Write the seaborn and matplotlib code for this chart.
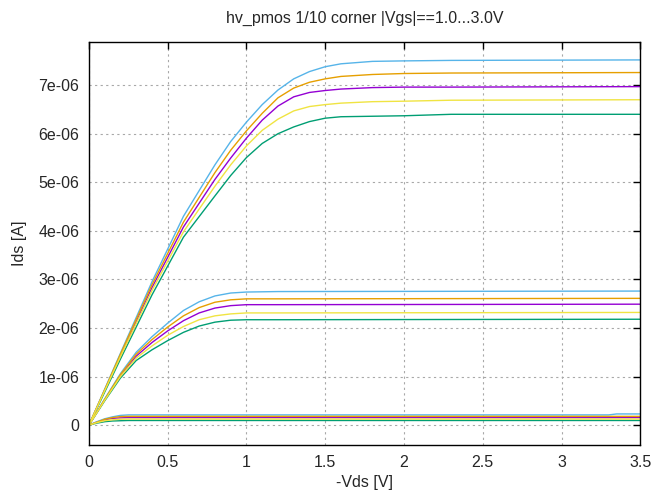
import numpy as np
import pandas as pd
import seaborn as sns
import matplotlib.pyplot as plt

# corners (line colours follow the gnuplot default palette)
corners = ['tt', 'ss', 'ff', 'fs', 'sf']
colors = ['#9400d3', '#009e73', '#56b4e9', '#e69f00', '#f0e442']

# |Vgs| = 1.0 V
vds_1 = [0, 0.05, 0.1, 0.15, 0.2, 0.25, 0.3, 3.3, 3.35, 3.5]
ids_1 = {
    'ff': [0, 0.07, 0.13, 0.17, 0.20, 0.21, 0.21, 0.21, 0.23, 0.23],
    'fs': [0, 0.06, 0.12, 0.155, 0.175, 0.18, 0.18, 0.18, 0.18, 0.18],
    'tt': [0, 0.06, 0.11, 0.14, 0.15, 0.155, 0.155, 0.155, 0.155, 0.155],
    'sf': [0, 0.05, 0.09, 0.11, 0.12, 0.125, 0.125, 0.125, 0.125, 0.125],
    'ss': [0, 0.04, 0.07, 0.085, 0.09, 0.095, 0.095, 0.095, 0.095, 0.095],
}

# |Vgs| = 2.0 V
vds_2 = [0, 0.1, 0.2, 0.3, 0.4, 0.5, 0.6, 0.7, 0.8, 0.9, 1.0, 1.2, 3.5]
ids_2 = {
    'ff': [0, 0.54, 1.06, 1.50, 1.82, 2.10, 2.36, 2.54, 2.66, 2.72, 2.74, 2.75, 2.76],
    'fs': [0, 0.53, 1.04, 1.46, 1.76, 2.02, 2.25, 2.42, 2.53, 2.58, 2.60, 2.60, 2.61],
    'tt': [0, 0.52, 1.02, 1.42, 1.70, 1.94, 2.15, 2.31, 2.41, 2.46, 2.48, 2.48, 2.49],
    'sf': [0, 0.51, 1.00, 1.38, 1.63, 1.85, 2.03, 2.17, 2.25, 2.29, 2.31, 2.31, 2.32],
    'ss': [0, 0.50, 0.97, 1.33, 1.55, 1.74, 1.91, 2.04, 2.12, 2.16, 2.17, 2.17, 2.18],
}

# |Vgs| = 3.0 V
vds_3 = [0, 0.2, 0.4, 0.6, 0.8, 0.9, 1.0, 1.1, 1.2, 1.3, 1.4, 1.5, 1.6, 1.8, 2.0, 2.3, 3.5]
ids_3 = {
    'ff': [0, 1.48, 2.95, 4.30, 5.36, 5.84, 6.24, 6.60, 6.90, 7.13, 7.28, 7.38, 7.44, 7.49, 7.50, 7.51, 7.52],
    'fs': [0, 1.46, 2.89, 4.18, 5.20, 5.66, 6.06, 6.42, 6.74, 6.94, 7.06, 7.13, 7.18, 7.22, 7.24, 7.25, 7.26],
    'tt': [0, 1.43, 2.83, 4.08, 5.06, 5.50, 5.91, 6.28, 6.57, 6.76, 6.85, 6.89, 6.92, 6.95, 6.96, 6.96, 6.97],
    'sf': [0, 1.41, 2.77, 3.98, 4.92, 5.36, 5.75, 6.07, 6.30, 6.47, 6.56, 6.60, 6.63, 6.66, 6.67, 6.69, 6.70],
    'ss': [0, 1.36, 2.68, 3.87, 4.72, 5.14, 5.51, 5.80, 6.00, 6.14, 6.25, 6.32, 6.35, 6.36, 6.37, 6.40, 6.40],
}

yticks = [0, 1e-6, 2e-6, 3e-6, 4e-6, 5e-6, 6e-6, 7e-6]
ytick_labels = ['0', '1e-06', '2e-06', '3e-06', '4e-06', '5e-06', '6e-06', '7e-06']
xticks = [0, 0.5, 1, 1.5, 2, 2.5, 3, 3.5]
xtick_labels = ['0', '0.5', '1', '1.5', '2', '2.5', '3', '3.5']

rows = []
for vgs, vds, ids in [(1.0, vds_1, ids_1), (2.0, vds_2, ids_2), (3.0, vds_3, ids_3)]:
    for c in corners:
        for v, i in zip(vds, ids[c]):
            rows.append({'vgs': vgs, 'corner': c, 'vds': v, 'ids': i * 1e-6})
df = pd.DataFrame(rows)

sns.set_style('white')
plt.rcParams['font.family'] = ['Liberation Sans', 'DejaVu Sans']

fig = plt.figure(figsize=(6.54, 4.97), dpi=100)
ax = fig.add_axes([0.136, 0.1046, 0.843, 0.811])

sns.lineplot(data=df, x='vds', y='ids', hue='corner', units='vgs', estimator=None,
             palette=dict(zip(corners, colors)), hue_order=corners,
             sort=False, legend=False, linewidth=1.0, ax=ax)

ax.set_xlim(0, 3.5)
ax.set_ylim(-0.41e-6, 7.89e-6)
ax.set_xticks(xticks)
ax.set_xticklabels(xtick_labels)
ax.set_yticks(yticks)
ax.set_yticklabels(ytick_labels)

ax.grid(True, color='#a8a8a8', linestyle=(0, (2, 3)), linewidth=0.8)
ax.tick_params(direction='in', length=5, width=1, color='black',
               top=True, right=True, labelsize=11.5, pad=7)
for s in ax.spines.values():
    s.set_color('black')
    s.set_linewidth(1.0)

ax.set_xlabel('-Vds [V]', fontsize=11.5, labelpad=4)
ax.set_ylabel('Ids [A]', fontsize=11.5, labelpad=8)
ax.set_title('hv_pmos 1/10 corner |Vgs|==1.0...3.0V', fontsize=11.5, pad=14)

fig.savefig('out.png', dpi=100)
